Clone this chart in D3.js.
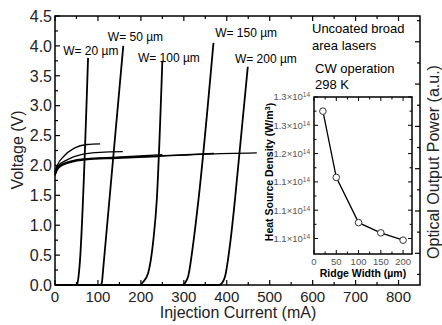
<!DOCTYPE html>
<html>
<head>
<meta charset="utf-8">
<script src="https://cdn.jsdelivr.net/npm/d3@7"></script>
<style>
  body { margin: 0; background: #fff; }
  svg { display: block; font-family: "Liberation Sans", Arial, sans-serif; }
</style>
</head>
<body>
<svg id="chart" width="442" height="325"></svg>
<script>
// ---- data ----
const widths = [20, 50, 100, 150, 200];            // ridge width, um
const widthLabels = ["W= 20 \u00b5m", "W= 50 \u00b5m", "W= 100 \u00b5m", "W= 150 \u00b5m", "W= 200 \u00b5m"];

// V-I curves: [current mA, voltage V]
const vi20  = [[0, 1.9], [5, 2.0], [20, 2.15], [45, 2.29], [75, 2.35], [105, 2.36]];
const vi50  = [[0, 1.88], [5, 1.98], [27, 2.09], [66, 2.19], [105, 2.22], [158, 2.23]];
const vi100 = [[0, 1.86], [5, 1.95], [19, 2.03], [66, 2.11], [143, 2.14], [250, 2.18]];
const vi150 = [[0, 1.84], [5, 1.93], [19, 2.02], [66, 2.10], [143, 2.13], [240, 2.16], [370, 2.2]];
const vi200 = [[0, 1.83], [5, 1.92], [19, 2.01], [66, 2.09], [143, 2.12], [240, 2.15], [350, 2.19], [470, 2.21]];

// L-I curves: [current mA, optical power a.u.]
const li20  = [[0, 0], [50, 0], [53, 0.014], [57, 0.085], [77, 1.074]];
const li50  = [[0, 0], [106, 0], [109, 0.01], [112, 0.071], [159, 1.131]];
const li100 = [[0, 0], [198, 0], [205, 0.014], [217, 0.057], [229, 0.212], [237, 0.401], [250, 1.06]];
const li150 = [[0, 0], [297, 0], [303, 0.01], [310, 0.04], [322, 0.198], [334, 0.401], [369, 1.145]];
const li200 = [[0, 0], [382, 0], [390, 0.012], [396, 0.04], [408, 0.198], [419, 0.401], [449, 1.032]];

// label anchors: [current mA, voltage V] where each W label sits
const labelPos = [[19, 3.85], [123, 4.09], [193, 3.73], [373, 4.15], [419, 3.71]];

// inset: heat source density vs ridge width (units of 1e14 W/m^3)
const insetWidths = [20, 50, 100, 150, 200];
const insetHeat = [1.275, 1.158, 1.078, 1.060, 1.047];
const insetYTicks = [1.30, 1.25, 1.20, 1.15, 1.10, 1.05];
const insetYLabels = ["1.3", "1.3", "1.2", "1.1", "1.1", "1.1"];
const insetXTicks = [0, 50, 100, 150, 200];

const xTicks = d3.range(0, 801, 100);
const yTicks = d3.range(0, 4.51, 0.5);

// ---- layout ----
const svg = d3.select("#chart");
const m = {left: 55, right: 420, top: 16, bottom: 285};

const x = d3.scaleLinear().domain([0, 850]).range([m.left, m.right]);
const y = d3.scaleLinear().domain([0, 4.5]).range([m.bottom, m.top]);
const yPow = d3.scaleLinear().domain([0, 1.272]).range([m.bottom, m.top]);

// ticks (inward, mirrored)
const g = svg.append("g").attr("stroke", "#000").attr("fill", "none");

function vTicks(vals, len, sx) {
    vals.forEach(v => {
        g.append("line").attr("x1", sx(v)).attr("x2", sx(v))
            .attr("y1", m.bottom).attr("y2", m.bottom - len).attr("stroke-width", 1.2);
        g.append("line").attr("x1", sx(v)).attr("x2", sx(v))
            .attr("y1", m.top).attr("y2", m.top + len).attr("stroke-width", 1.2);
    });
}
vTicks(xTicks, 5, x);
vTicks(d3.range(50, 850, 100), 3, x);

d3.range(0, 4.51, 0.25).forEach((v, i) => {
    const len = i % 2 ? 3 : 5;
    g.append("line").attr("x1", m.left).attr("x2", m.left + len)
        .attr("y1", y(v)).attr("y2", y(v)).attr("stroke-width", 1.2);
});
d3.range(0.05, 1.26, 0.1).forEach((v, i) => {
    const len = i % 2 ? 5 : 3;
    g.append("line").attr("x1", m.right).attr("x2", m.right - len)
        .attr("y1", yPow(v)).attr("y2", yPow(v)).attr("stroke-width", 1.2);
});

// tick labels
svg.append("g").selectAll("text").data(xTicks).enter().append("text")
    .attr("x", d => x(d)).attr("y", 302)
    .attr("text-anchor", "middle").attr("font-size", 15).attr("fill", "#222")
    .text(d => d);

svg.append("g").selectAll("text").data(yTicks).enter().append("text")
    .attr("x", 52).attr("y", d => y(d)).attr("dy", "0.36em")
    .attr("text-anchor", "end").attr("font-size", 16).attr("fill", "#222")
    .text(d => d3.format(".1f")(d));

// axis titles
svg.append("text").attr("x", 238).attr("y", 318)
    .attr("text-anchor", "middle").attr("font-size", 16).attr("fill", "#222")
    .text("Injection Current (mA)");
svg.append("text").attr("transform", "translate(23,150) rotate(-90)")
    .attr("text-anchor", "middle").attr("font-size", 16).attr("fill", "#222")
    .text("Voltage (V)");
svg.append("text").attr("transform", "translate(439,162) rotate(-90)")
    .attr("text-anchor", "middle").attr("font-size", 16).attr("fill", "#222")
    .text("Optical Output Power (a.u.)");

// curves
const lineV = d3.line().x(d => x(d[0])).y(d => y(d[1])).curve(d3.curveMonotoneX);
const lineP = d3.line().x(d => x(d[0])).y(d => yPow(d[1])).curve(d3.curveMonotoneX);

const curves = svg.append("g").attr("fill", "none").attr("stroke", "#000");
curves.selectAll("path.vi").data([vi200, vi150, vi100, vi50, vi20]).enter().append("path")
    .attr("class", "vi").attr("stroke-width", 1.3).attr("d", lineV);
curves.selectAll("path.li").data([li20, li50, li100, li150, li200]).enter().append("path")
    .attr("class", "li").attr("stroke-width", 1.8).attr("d", lineP);

// W labels
const lab = svg.append("g").attr("font-size", 12).attr("fill", "#000");
widthLabels.forEach((t, i) => {
    lab.append("text").attr("x", x(labelPos[i][0])).attr("y", y(labelPos[i][1])).text(t);
});

// annotation
const note = svg.append("g").attr("font-size", 13).attr("fill", "#000");
[["Uncoated broad", 312, 33], ["area lasers", 312, 50], ["CW operation", 315, 73], ["298 K", 315, 89]]
    .forEach(d => note.append("text").attr("x", d[1]).attr("y", d[2]).text(d[0]));

// frame
svg.append("rect").attr("x", m.left).attr("y", m.top)
    .attr("width", m.right - m.left).attr("height", m.bottom - m.top)
    .attr("fill", "none").attr("stroke", "#000").attr("stroke-width", 1.5);

// ---- inset ----
const ix = d3.scaleLinear().domain([0, 220]).range([314, 412]);
const iy = d3.scaleLinear().domain([1.0226, 1.30]).range([254, 97]);

const ins = svg.append("g");
ins.append("rect").attr("x", 314).attr("y", 97).attr("width", 98).attr("height", 157)
    .attr("fill", "#fff");

const it = ins.append("g").attr("stroke", "#000").attr("stroke-width", 1);
d3.range(0, 220, 25).forEach((v, i) => {
    const len = i % 2 ? 2.5 : 4;
    it.append("line").attr("x1", ix(v)).attr("x2", ix(v)).attr("y1", 254).attr("y2", 254 - len);
    it.append("line").attr("x1", ix(v)).attr("x2", ix(v)).attr("y1", 97).attr("y2", 97 + len);
});
d3.range(1.05, 1.301, 0.025).forEach((v, i) => {
    const len = i % 2 ? 2.5 : 4;
    it.append("line").attr("x1", 314).attr("x2", 314 + len).attr("y1", iy(v)).attr("y2", iy(v));
    it.append("line").attr("x1", 412).attr("x2", 412 - len).attr("y1", iy(v)).attr("y2", iy(v));
});

ins.append("path").datum(insetWidths.map((w, i) => [w, insetHeat[i]]))
    .attr("fill", "none").attr("stroke", "#000").attr("stroke-width", 1.3)
    .attr("d", d3.line().x(d => ix(d[0])).y(d => iy(d[1])));
ins.selectAll("circle").data(insetWidths).enter().append("circle")
    .attr("cx", d => ix(d)).attr("cy", (d, i) => iy(insetHeat[i])).attr("r", 3.3)
    .attr("fill", "#fff").attr("stroke", "#333").attr("stroke-width", 1);

ins.append("rect").attr("x", 314).attr("y", 97).attr("width", 98).attr("height", 157)
    .attr("fill", "none").attr("stroke", "#000").attr("stroke-width", 1.5);

ins.append("g").selectAll("text").data(insetXTicks).enter().append("text")
    .attr("x", d => ix(d)).attr("y", 265).attr("text-anchor", "middle")
    .attr("font-size", 9.5).attr("fill", "#555").text(d => d);

const yl = ins.append("g").selectAll("text").data(insetYTicks).enter().append("text")
    .attr("x", 310).attr("y", d => iy(d)).attr("dy", "0.35em")
    .attr("text-anchor", "end").attr("font-size", 9.5).attr("fill", "#555");
yl.append("tspan").text((d, i) => insetYLabels[i] + "\u00d710");
yl.append("tspan").attr("dy", "-0.45em").attr("font-size", 6.5).text("14");

ins.append("text").attr("x", 363).attr("y", 277).attr("text-anchor", "middle")
    .attr("font-size", 10.5).attr("font-weight", "bold").text("Ridge Width (\u00b5m)");
const yt = ins.append("text").attr("transform", "translate(272.5,172) rotate(-90)")
    .attr("text-anchor", "middle").attr("font-size", 10.5).attr("font-weight", "bold");
yt.append("tspan").text("Heat Source Density (W/m");
yt.append("tspan").attr("dy", "-0.4em").attr("font-size", 7.5).text("3");
yt.append("tspan").attr("dy", "0.4em").text(")");
</script>
</body>
</html>
